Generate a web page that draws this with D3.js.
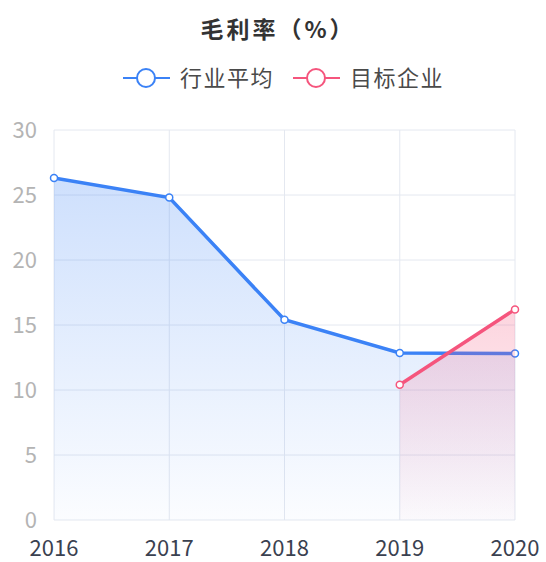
<!DOCTYPE html>
<html>
<head>
<meta charset="utf-8">
<script src="https://cdn.jsdelivr.net/npm/d3@7"></script>
<style>
body { margin: 0; background: #fff; }
svg text { font-family: "Noto Sans CJK SC", "Open Sans", sans-serif; }
</style>
</head>
<body>
<div id="chart"></div>
<script>
var years = ["2016", "2017", "2018", "2019", "2020"];
var industryAvg = [26.3, 24.8, 15.4, 12.85, 12.8];
var targetCo = [null, null, null, 10.4, 16.2];
var yTicks = [0, 5, 10, 15, 20, 25, 30];
var seriesNames = ["行业平均", "目标企业"];
var seriesColors = ["#3b82f6", "#f5557d"];

var W = 546, H = 562;
var dims = {top: 130, right: 31, bottom: 42, left: 54};
var width = W - dims.left - dims.right,
	height = H - dims.top - dims.bottom;

var svg = d3.select("#chart").append("svg")
	.attr("width", W)
	.attr("height", H);

var defs = svg.append("defs");
function addGradient(id, color, topOpacity){
	var g = defs.append("linearGradient")
		.attr("id", id)
		.attr("x1", 0).attr("y1", 0).attr("x2", 0).attr("y2", 1);
	g.append("stop").attr("offset", "0%").attr("stop-color", color).attr("stop-opacity", topOpacity);
	g.append("stop").attr("offset", "100%").attr("stop-color", color).attr("stop-opacity", 0.02);
}
addGradient("gradBlue", "#3b82f6", 0.25);
addGradient("gradPink", "#f5557d", 0.25);

var g = svg.append("g")
	.attr("transform", "translate(" + dims.left + "," + dims.top + ")");

var x = d3.scalePoint().domain(years).range([0, width]);
var y = d3.scaleLinear().domain([0, 30]).range([height, 0]);

// grid
g.selectAll(".hgrid").data(yTicks).enter().append("line")
	.attr("x1", 0).attr("x2", width)
	.attr("y1", function(d){ return y(d); })
	.attr("y2", function(d){ return y(d); })
	.style("stroke", "#e4e8f0").style("stroke-width", 1);
g.selectAll(".vgrid").data(years).enter().append("line")
	.attr("x1", function(d){ return x(d); })
	.attr("x2", function(d){ return x(d); })
	.attr("y1", 0).attr("y2", height)
	.style("stroke", "#e4e8f0").style("stroke-width", 1);

function drawSeries(values, color, gradId){
	var pts = [];
	for(var i = 0; i < years.length; i++){
		if(values[i] != null) pts.push({year: years[i], v: values[i]});
	}
	var area = d3.area()
		.x(function(d){ return x(d.year); })
		.y0(y(0))
		.y1(function(d){ return y(d.v); });
	var line = d3.line()
		.x(function(d){ return x(d.year); })
		.y(function(d){ return y(d.v); });
	g.append("path").datum(pts)
		.attr("d", area)
		.style("fill", "url(#" + gradId + ")");
	g.append("path").datum(pts)
		.attr("d", line)
		.style("fill", "none")
		.style("stroke", color)
		.style("stroke-width", 3.5);
	g.selectAll(null).data(pts).enter().append("circle")
		.attr("cx", function(d){ return x(d.year); })
		.attr("cy", function(d){ return y(d.v); })
		.attr("r", 3.5)
		.style("fill", "#fff")
		.style("stroke", color)
		.style("stroke-width", 1.5);
}
drawSeries(industryAvg, seriesColors[0], "gradBlue");
drawSeries(targetCo, seriesColors[1], "gradPink");

// y labels
g.selectAll(".ylab").data(yTicks).enter().append("text")
	.attr("x", -17)
	.attr("y", function(d){ return y(d); })
	.attr("dy", "0.35em")
	.attr("text-anchor", "end")
	.style("font-size", "22px")
	.style("fill", "#b4b4b4")
	.text(function(d){ return d; });

// x labels
g.selectAll(".xlab").data(years).enter().append("text")
	.attr("x", function(d){ return x(d); })
	.attr("y", height + 36)
	.attr("text-anchor", "middle")
	.style("font-size", "22px")
	.style("fill", "#3a4150")
	.text(function(d){ return d; });

// title
svg.append("text")
	.attr("x", 278)
	.attr("y", 38)
	.attr("text-anchor", "middle")
	.style("font-size", "23px")
	.style("font-weight", "bold")
	.style("letter-spacing", "3px")
	.style("fill", "#333")
	.text("毛利率（%）");

// legend
var legendX = [123, 293];
seriesNames.forEach(function(name, i){
	var lg = svg.append("g").attr("transform", "translate(" + legendX[i] + ",78)");
	lg.append("line").attr("x1", 0).attr("x2", 47).attr("y1", 0).attr("y2", 0)
		.style("stroke", seriesColors[i]).style("stroke-width", 2);
	lg.append("circle").attr("cx", 23).attr("cy", 0).attr("r", 9)
		.style("fill", "#fff").style("stroke", seriesColors[i]).style("stroke-width", 2);
	lg.append("text").attr("x", 57).attr("y", 0).attr("dy", "0.35em")
		.style("font-size", "22px").style("letter-spacing", "1.5px").style("fill", "#4a4a4a")
		.text(name);
});
</script>
</body>
</html>
